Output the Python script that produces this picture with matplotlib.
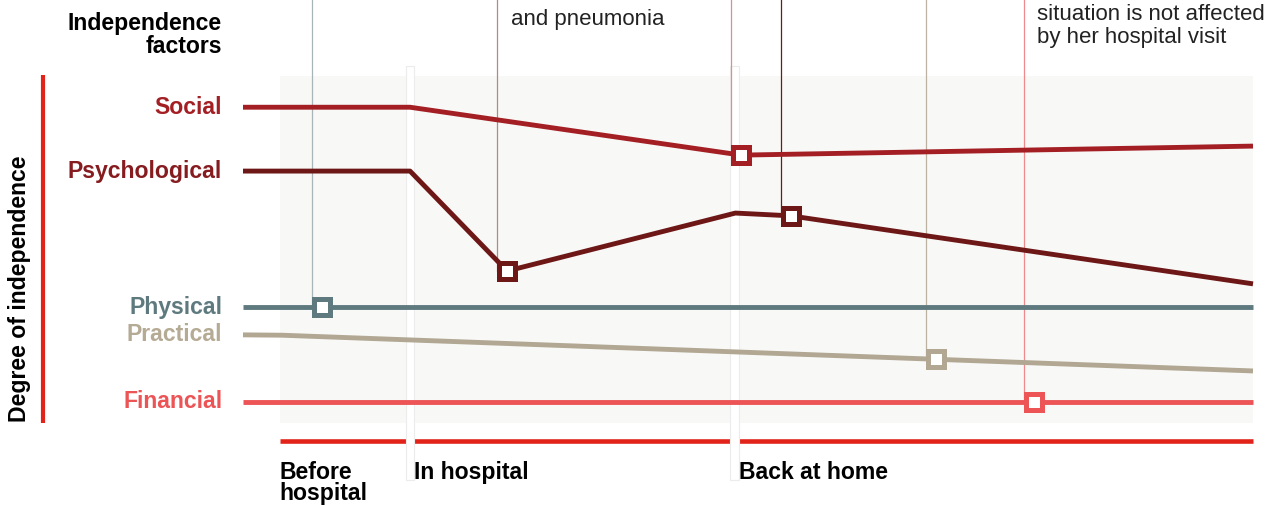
import matplotlib.pyplot as plt
from matplotlib import transforms
from matplotlib.patches import Rectangle

plt.rcParams['font.family'] = ['Liberation Sans', 'DejaVu Sans']

# time axis: 0 = start of "before hospital", 100 = end of chart
factors = ["Social", "Psychological", "Physical", "Practical", "Financial"]
factor_colors = ["#a31f24", "#6e1717", "#5e7a7f", "#b1a793", "#ec5456"]
label_colors = ["#a31f24", "#861c1f", "#5e7a7f", "#b5aa94", "#ec5456"]

social_t = [-4, 13.2, 47.3, 100]
social_v = [9.1, 9.1, 7.72, 7.98]
psych_t = [-4, 13.2, 23.2, 46.7, 52.4, 100]
psych_v = [7.26, 7.26, 4.38, 6.05, 5.97, 4.01]
physical_t = [-4, 100]
physical_v = [3.34, 3.34]
practical_t = [-4, 0, 100]
practical_v = [2.54, 2.53, 1.50]
financial_t = [-4, 100]
financial_v = [0.61, 0.61]

series_t = [social_t, psych_t, physical_t, practical_t, financial_t]
series_v = [social_v, psych_v, physical_v, practical_v, financial_v]

# event markers (factor index, time, level)
event_factor = [0, 1, 1, 2, 3, 4]
event_t = [47.3, 23.2, 52.4, 4.1, 67.4, 77.4]
event_v = [7.72, 4.38, 5.97, 3.34, 1.84, 0.61]
event_line_color = ["#dc8f91", "#b88588", "#6b1a1a", "#a7b5b8", "#bcb2a2", "#ee8a8b"]

phase_names = ["Before\nhospital", "In hospital", "Back at home"]
phase_starts = [0, 13.2, 46.6]

fig = plt.figure(figsize=(12.65, 5.05), dpi=100)
ax = fig.add_axes([243 / 1265, 82 / 505, 1010 / 1265, 347 / 505])
ax.set_xlim(-4, 100)
ax.set_ylim(0, 10)
ax.axis('off')

# light panel
ax.add_patch(Rectangle((-0.2, 0), 100.2, 10, facecolor="#f8f8f6",
                       edgecolor='none', zorder=0))

# red time axis under the panel
ax.plot([-0.2, 100], [-0.53, -0.53], color="#e2231a", lw=3.3,
        solid_capstyle='butt', clip_on=False, zorder=1)

# white phase dividers
for t in phase_starts[1:]:
    ax.add_patch(Rectangle((t - 0.44, -1.64), 0.88, 11.93, facecolor="white",
                           edgecolor="#ececec", lw=0.8, clip_on=False, zorder=2))

# thin annotation lines from the top down to each event
shift = transforms.offset_copy(ax.transData, fig=fig, x=-7.2, y=0, units='points')
for t, v, c in zip(event_t, event_v, event_line_color):
    ax.plot([t, t], [v, 12.4], color=c, lw=0.9, transform=shift,
            clip_on=False, zorder=3)

# factor lines
for t, v, c in zip(series_t, series_v, factor_colors):
    ax.plot(t, v, color=c, lw=3.5, clip_on=False, zorder=4,
            solid_capstyle='butt')

# event markers
for f, t, v in zip(event_factor, event_t, event_v):
    ax.plot(t, v, marker='s', ms=12, mew=3.6, mfc='white',
            mec=factor_colors[f], zorder=5, clip_on=False)

# factor labels
for name, v, c in zip(factors, [s[0] for s in series_v], label_colors):
    ax.annotate(name, xy=(-4, v), xytext=(-15, 0), textcoords='offset points',
                ha='right', va='center', fontsize=16.6, fontweight='bold',
                color=c, annotation_clip=False)

# phase labels
for name, t in zip(phase_names, phase_starts):
    dx = -1.5 if t == 0 else 3
    ax.annotate(name, xy=(t, -0.53), xytext=(dx, -14), textcoords='offset points',
                ha='left', va='top', fontsize=16.6, fontweight='bold',
                color='black', linespacing=0.92, annotation_clip=False)

fig.text(222 / 1265, 1 - 53 / 505, "Independence\nfactors", ha='right',
         va='baseline', fontsize=16.6, fontweight='bold', linespacing=1.0)

fig.text(20 / 1265, 1 - 289 / 505, "Degree of independence", rotation=90,
         ha='center', va='center', fontsize=16.6, fontweight='bold')

# red bar beside the y label
fig.add_artist(plt.Line2D([43 / 1265, 43 / 1265], [1 - 75 / 505, 1 - 423 / 505],
                          color="#e2231a", lw=3, solid_capstyle='butt'))

# visible ends of the annotation notes
fig.text(511 / 1265, 1 - 25 / 505, "and pneumonia", ha='left', va='baseline',
         fontsize=16, color="#222222")
fig.text(1037 / 1265, 1 - 43 / 505, "situation is not affected\nby her hospital visit",
         ha='left', va='baseline', fontsize=16, color="#222222", linespacing=1.15)

fig.savefig("out.png", dpi=100)
plt.close(fig)
